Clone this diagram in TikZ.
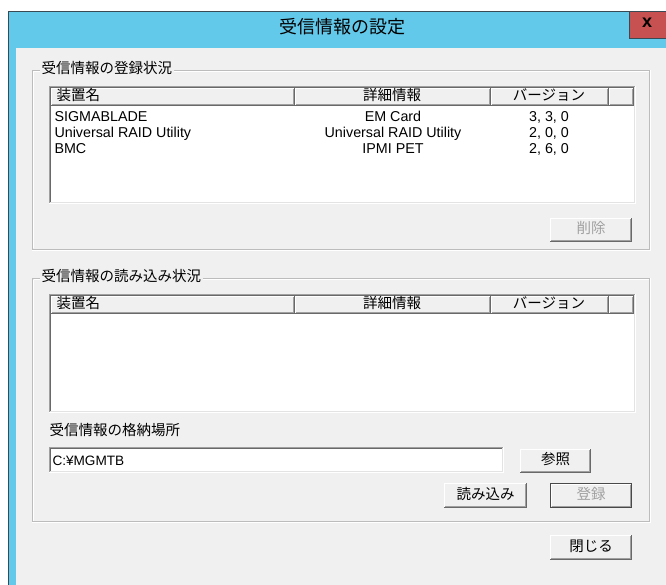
\documentclass[tikz,border=0pt]{standalone}
\usepackage{fontspec}
\setmainfont{Liberation Sans}
\newfontfamily\jp{Noto Sans CJK JP}
\definecolor{bg}{HTML}{F0F0F0}
\definecolor{titlecyan}{HTML}{63C9EA}
\definecolor{closered}{HTML}{C75050}
\definecolor{edgedark}{HTML}{696969}
\definecolor{edgemid}{HTML}{A0A0A0}
\definecolor{edgelight}{HTML}{E3E3E3}
\definecolor{groove}{HTML}{D5D5D5}
\definecolor{disabledtxt}{HTML}{A0A0A0}
\definecolor{frameline}{HTML}{3A4A55}
\newcommand{\jpf}{\jp\fontsize{14.5}{16}\selectfont}
\newcommand{\ltf}{\fontsize{14.3}{16}\selectfont}
\newcommand{\raisededge}[1]{%
 \draw[white] ([shift={(.5pt,1pt)}]#1.south west) -- ([shift={(.5pt,-.5pt)}]#1.north west) -- ([shift={(-1pt,-.5pt)}]#1.north east);
 \draw[edgedark] ([shift={(0pt,.5pt)}]#1.south west) -- ([shift={(-.5pt,.5pt)}]#1.south east) -- ([shift={(-.5pt,0pt)}]#1.north east);
 \draw[edgemid] ([shift={(1pt,1.5pt)}]#1.south west) -- ([shift={(-1.5pt,1.5pt)}]#1.south east) -- ([shift={(-1.5pt,-1pt)}]#1.north east);
}
\newcommand{\sunkenbox}[4]{%
 \fill[white] (#1,#2) rectangle (#3,#4);
 \draw[edgemid] (#1+0.5,#4) -- (#1+0.5,#2+0.5) -- (#3,#2+0.5);
 \draw[edgedark] (#1+1.5,#4-1) -- (#1+1.5,#2+1.5) -- (#3-1,#2+1.5);
 \draw[white] (#1,#4-0.5) -- (#3-0.5,#4-0.5) -- (#3-0.5,#2);
 \draw[edgelight] (#1+1,#4-1.5) -- (#3-1.5,#4-1.5) -- (#3-1.5,#2+1);
}
\newcommand{\groupbox}[4]{%
 \draw[edgemid!70] (#1+0.5,#2+0.5) rectangle (#3-0.5,#4-0.5);
 \draw[white] (#1+1.5,#2+1.5) -- (#3-1.5,#2+1.5);
 \draw[white] (#1+1.5,#4-1.5) -- (#1+1.5,#2+1.5);
 \draw[white] (#1,#4+0.5) -- (#3+0.5,#4+0.5) -- (#3+0.5,#2);
}
\tikzset{
 jptext/.style={font=\jpf, inner sep=0pt, text height=0.88em, text depth=0.12em},
 lttext/.style={font=\ltf, inner sep=0pt},
 grouplabel/.style={jptext, fill=bg, inner xsep=2pt, anchor=west},
 hcell/.style={fill=bg, minimum height=18pt, inner sep=0pt, outer sep=0pt, anchor=north west},
 btn/.style={fill=bg, inner sep=0pt, outer sep=0pt, font=\jpf, text height=0.88em, text depth=0.12em},
 disabled/.style={text=disabledtxt},
}
\begin{document}
\begin{tikzpicture}[x=1pt,y=-1pt,line width=1pt]
\useasboundingbox (0,0) rectangle (666,585);
\fill[white] (0,0) rectangle (666,585);
% window frame and title bar
\fill[titlecyan] (8,11) rectangle (666,585);
\fill[bg] (16,48) rectangle (666,585);
\draw[frameline] (8.5,585) -- (8.5,11.5) -- (666,11.5);
\node[jptext, font=\jp\fontsize{18}{20}\selectfont] (title) at (342,30) {受信情報の設定};
\node[fill=closered, draw=frameline, minimum width=37pt, minimum height=27pt, inner sep=0pt, anchor=north west] (closebtn) at (628.5,11.5) {};
\node[font=\bfseries\fontsize{18}{18}\selectfont, inner sep=0pt] (closex) at (647,23) {x};

% ---------- group 1 ----------
\groupbox{32}{70}{650}{250}
\node[grouplabel] (g1label) at (39,70) {受信情報の登録状況};
\sunkenbox{49}{86}{636}{204}
\node[hcell, minimum width=244pt] (h1a) at (51,88) {};
\node[hcell, minimum width=196pt] (h1b) at (295,88) {};
\node[hcell, minimum width=118pt] (h1c) at (491,88) {};
\node[hcell, minimum width=25pt] (h1d) at (609,88) {};
\raisededge{h1a}\raisededge{h1b}\raisededge{h1c}\raisededge{h1d}
\node[jptext, anchor=west] (h1atext) at (56,97) {装置名};
\node[jptext] (h1btext) at (392,97) {詳細情報};
\node[jptext] (h1ctext) at (549,97) {バージョン};

\node[lttext, anchor=base west] (r1a) at (54,122) {SIGMABLADE};
\node[lttext, anchor=base] (r1b) at (393,122) {EM Card};
\node[lttext, anchor=base] (r1c) at (549,122) {3, 3, 0};
\node[lttext, anchor=base west] (r2a) at (54,138) {Universal RAID Utility};
\node[lttext, anchor=base] (r2b) at (393,138) {Universal RAID Utility};
\node[lttext, anchor=base] (r2c) at (549,138) {2, 0, 0};
\node[lttext, anchor=base west] (r3a) at (54,154) {BMC};
\node[lttext, anchor=base] (r3b) at (393,154) {IPMI PET};
\node[lttext, anchor=base] (r3c) at (549,154) {2, 6, 0};

\node[btn, disabled, minimum width=82pt, minimum height=24pt] (delbtn) at (591,230) {削除};
\raisededge{delbtn}

% ---------- group 2 ----------
\groupbox{32}{278}{650}{522}
\node[grouplabel] (g2label) at (39,278) {受信情報の読み込み状況};
\sunkenbox{49}{294}{636}{413}
\node[hcell, minimum width=244pt] (h2a) at (51,296) {};
\node[hcell, minimum width=196pt] (h2b) at (295,296) {};
\node[hcell, minimum width=118pt] (h2c) at (491,296) {};
\node[hcell, minimum width=25pt] (h2d) at (609,296) {};
\raisededge{h2a}\raisededge{h2b}\raisededge{h2c}\raisededge{h2d}
\node[jptext, anchor=west] (h2atext) at (56,305) {装置名};
\node[jptext] (h2btext) at (392,305) {詳細情報};
\node[jptext] (h2ctext) at (549,305) {バージョン};

\node[jptext, anchor=west] (storelabel) at (49,432) {受信情報の格納場所};
\sunkenbox{49}{447}{504}{473}
\node[lttext, font=\fontsize{13.6}{15}\selectfont, anchor=base west] (pathtext) at (52,465) {C:¥MGMTB};

\node[btn, minimum width=71pt, minimum height=24pt] (browsebtn) at (555.5,461) {参照};
\raisededge{browsebtn}
\node[btn, minimum width=83pt, minimum height=25pt] (loadbtn) at (485.5,495.5) {読み込み};
\raisededge{loadbtn}
\node[btn, disabled, minimum width=82pt, minimum height=25pt] (regbtn) at (591,495.5) {登録};
\draw[edgedark!70!black] ([shift={(.5pt,.5pt)}]regbtn.south west) rectangle ([shift={(-.5pt,-.5pt)}]regbtn.north east);
\draw[white] ([shift={(1.5pt,2pt)}]regbtn.south west) -- ([shift={(1.5pt,-1.5pt)}]regbtn.north west) -- ([shift={(-2pt,-1.5pt)}]regbtn.north east);
\draw[edgemid] ([shift={(1.5pt,1.5pt)}]regbtn.south west) -- ([shift={(-1.5pt,1.5pt)}]regbtn.south east) -- ([shift={(-1.5pt,-1.5pt)}]regbtn.north east);

% ---------- close ----------
\node[btn, minimum width=82pt, minimum height=25pt] (closedlg) at (591,547.5) {閉じる};
\raisededge{closedlg}
\end{tikzpicture}
\end{document}
